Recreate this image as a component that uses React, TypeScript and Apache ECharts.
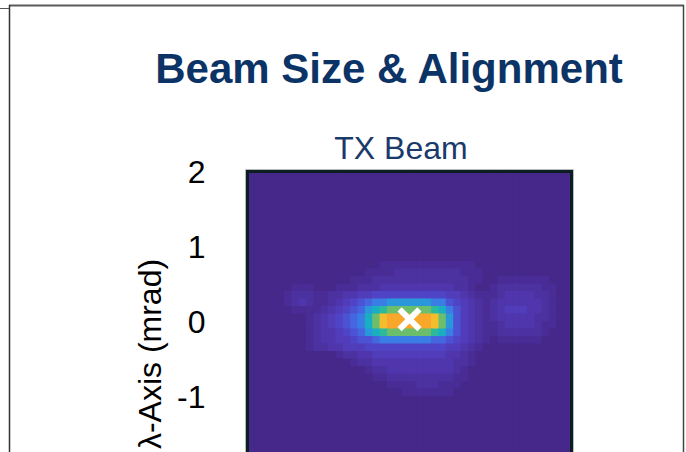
import React, { useEffect, useRef } from 'react';
import * as echarts from 'echarts';

// ---- texts ----
const titleText = 'Beam Size & Alignment';
const subtitleText = 'TX Beam';
const yAxisTitle = 'λ-Axis (mrad)';

// ---- axis ranges (mrad) ----
const xRange = [-2.2, 2.2];
const yRange = [-2, 2];
const yTickStep = 1;

// ---- beam intensity map ----
// one string per 0.1 mrad row, top (y = 1.95) to bottom (y = -1.95);
// each hex character is a 0.1 mrad column from x = -2.15 to x = 2.15, level 0..15
const Z = '00000000000 00000000000 00000000000 00000000000';
const intensityRows = [
  Z, Z, Z, Z, Z, Z, Z, Z, Z, Z, Z, Z,
  '00000000000 00000001111 11111111100 00000000000',
  '00000000000 00000111122 22222221110 00000000000',
  '00000000000 00011122222 22222222110 01111111000',
  '00000011100 01112223333 33333322100 12222221100',
  '00000122211 22334455555 55555443211 12333322100',
  '00000123211 23456788999 99988654321 23333332100',
  '00000011112 345679abccc cccba864321 23444332100',
  '00000000123 45678acefff fffec964321 23333322100',
  '00000000123 45678acefff fffec964321 12333321100',
  '00000000123 345679abccc cccba864321 12222221000',
  '00000000123 34456678888 88877654321 01111110000',
  '00000000122 33444555555 55555443210 00000000000',
  '00000000000 01223344444 44444332100 00000000000',
  '00000000000 00012233333 33333322100 00000000000',
  '00000000000 00000122333 33333321000 00000000000',
  '00000000000 00000011222 22222211000 00000000000',
  '00000000000 00000000111 12221110000 00000000000',
  '00000000000 00000000001 11111100000 00000000000',
  Z, Z, Z, Z, Z, Z, Z, Z, Z, Z,
];
const cellSize = 0.1;
const firstCellX = -2.15;
const firstCellY = 1.95;

// beam centroid marker (mrad)
const centroid = [0.0, 0.03];

// colour ramp for levels 0..15
const levelColors = [
  '#46288a', '#492c95', '#4c31a0', '#4f36ad', '#513cb9', '#5044c6', '#4b52d3', '#4466de',
  '#3a7de4', '#2a97da', '#1aaec2', '#2bba9c', '#6bbf6c', '#bdc23e', '#f3bd2e', '#f8a72a',
];

const FONT = '"Liberation Sans", Arial, sans-serif';

function buildCells() {
  const out: number[][] = [];
  intensityRows.forEach((row, j) => {
    const vals = row.replace(/ /g, '');
    for (let i = 0; i < vals.length; i++) {
      out.push([
        +(firstCellX + cellSize * i).toFixed(3),
        +(firstCellY - cellSize * j).toFixed(3),
        parseInt(vals[i], 16),
      ]);
    }
  });
  return out;
}

const GRID = { left: 247.5, top: 171.5, width: 324, height: 300 };

export default function App() {
  const ref = useRef<HTMLDivElement>(null);
  useEffect(() => {
    if (!ref.current) return;
    const chart = echarts.init(ref.current, null, { renderer: 'svg' });
    const half = cellSize / 2;
    chart.setOption({
      animation: false,
      backgroundColor: '#ffffff',
      grid: { ...GRID, show: false, containLabel: false, outerBoundsMode: 'none' },
      xAxis: { type: 'value', min: xRange[0], max: xRange[1], show: false },
      yAxis: {
        type: 'value',
        min: yRange[0],
        max: yRange[1],
        interval: yTickStep,
        axisLine: { show: false },
        axisTick: { show: true, length: 19, lineStyle: { color: '#000', width: 4 } },
        axisLabel: { fontSize: 32, color: '#000', margin: 42, fontFamily: FONT, showMinLabel: false },
        splitLine: { show: false },
      },
      visualMap: {
        type: 'continuous',
        show: false,
        seriesIndex: 0,
        dimension: 2,
        min: 0,
        max: 15,
        inRange: { color: levelColors },
      },
      series: [
        {
          type: 'custom',
          clip: true,
          data: buildCells(),
          renderItem: (params: any, api: any) => {
            const x = api.value(0);
            const y = api.value(1);
            const p0 = api.coord([x - half, y + half]);
            const p1 = api.coord([x + half, y - half]);
            return {
              type: 'rect',
              shape: { x: p0[0] - 0.5, y: p0[1] - 0.5, width: p1[0] - p0[0] + 1.2, height: p1[1] - p0[1] + 1.2 },
              style: { fill: api.visual('color') },
            };
          },
          z: 1,
        },
        {
          type: 'scatter',
          data: [centroid],
          symbol:
            'path://M0,3.5 L3.5,0 L10,6.5 L16.5,0 L20,3.5 L13.5,10 L20,16.5 L16.5,20 L10,13.5 L3.5,20 L0,16.5 L6.5,10 Z',
          symbolSize: 24,
          itemStyle: { color: '#ffffff', opacity: 1 },
          z: 5,
        },
      ],
      graphic: [
        // slide frame
        { type: 'line', shape: { x1: 9, y1: 5.5, x2: 684, y2: 5.5 }, style: { stroke: '#5a5a5a', lineWidth: 2 }, z: 50 },
        { type: 'line', shape: { x1: 9.5, y1: 5, x2: 9.5, y2: 452 }, style: { stroke: '#333', lineWidth: 1.5 }, z: 50 },
        { type: 'line', shape: { x1: 683.5, y1: 5, x2: 683.5, y2: 452 }, style: { stroke: '#444', lineWidth: 1.5 }, z: 50 },
        { type: 'line', shape: { x1: 0, y1: 8.5, x2: 9, y2: 8.5 }, style: { stroke: '#555', lineWidth: 1 }, z: 50 },
        // plot frame
        {
          type: 'rect',
          shape: { x: GRID.left - 2, y: GRID.top - 2, width: GRID.width + 4, height: GRID.height + 4 },
          style: { fill: 'none', stroke: '#b8bcbc', lineWidth: 1 },
          z: 60,
        },
        {
          type: 'rect',
          shape: { x: GRID.left, y: GRID.top, width: GRID.width, height: GRID.height },
          style: { fill: 'none', stroke: '#0d1e23', lineWidth: 3 },
          z: 61,
        },
        // titles
        {
          type: 'text',
          x: 389,
          y: 68,
          style: {
            text: titleText,
            fontSize: 42,
            fontWeight: 'bold',
            fontFamily: FONT,
            fill: '#0c3366',
            align: 'center',
            verticalAlign: 'middle',
            textAlign: 'center',
            textVerticalAlign: 'middle',
          },
          z: 70,
        },
        {
          type: 'text',
          x: 401,
          y: 148,
          style: {
            text: subtitleText,
            fontSize: 32,
            fontFamily: FONT,
            fill: '#1a3a6c',
            align: 'center',
            verticalAlign: 'middle',
            textAlign: 'center',
            textVerticalAlign: 'middle',
          },
          z: 70,
        },
        {
          type: 'text',
          x: 150,
          y: 354,
          rotation: Math.PI / 2,
          style: {
            text: yAxisTitle,
            fontSize: 32,
            fontFamily: FONT,
            fill: '#000',
            align: 'center',
            verticalAlign: 'middle',
            textAlign: 'center',
            textVerticalAlign: 'middle',
          },
          z: 70,
        },
      ],
    });
    return () => chart.dispose();
  }, []);
  return (
    <div
      ref={ref}
      style={{ position: 'fixed', left: 0, top: 0, width: 686, height: 452, background: '#fff' }}
    />
  );
}
